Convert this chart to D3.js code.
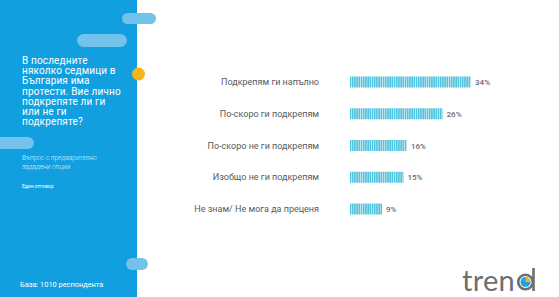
<!DOCTYPE html>
<html><head><meta charset="utf-8">
<script src="https://cdn.jsdelivr.net/npm/d3@7/dist/d3.min.js"></script>
<style>html,body{margin:0;padding:0;background:#fff;}svg{display:block;}</style>
</head><body>
<script>
const categories = ["Подкрепям ги напълно","По-скоро ги подкрепям","По-скоро не ги подкрепям","Изобщо не ги подкрепям","Не знам/ Не мога да преценя"];
const values = [34, 26, 16, 15, 9];
const valueLabels = ["34%","26%","16%","15%","9%"];
const questionLines = ["В последните","няколко седмици в","България има","протести. Вие лично","подкрепяте ли ги","или не ги","подкрепяте?"];
const subtitleLines = ["Въпрос с предварително","зададени опции"];
const answerNote = "Един отговор";
const baseNote = "База: 1010 респондента";

const W = 559, H = 297;
const svg = d3.select("body").append("svg").attr("width", W).attr("height", H);
const defs = svg.append("defs");
const pat = defs.append("pattern").attr("id","stripes").attr("patternUnits","userSpaceOnUse")
  .attr("width",2.2).attr("height",20);
pat.append("rect").attr("width",2.2).attr("height",20).attr("fill","#e6f6fa");
pat.append("rect").attr("width",1.6).attr("height",20).attr("fill","#52c4dd");

// left panel
svg.append("rect").attr("x",0).attr("y",0).attr("width",137).attr("height",H).attr("fill","#129fe0");
const pill = "#72c2ec";
[[122,13,34,11],[77,34,50,13],[-12,137,46,12],[126,258,22,12]].forEach(p=>{
  svg.append("rect").attr("x",p[0]).attr("y",p[1]).attr("width",p[2]).attr("height",p[3])
    .attr("rx",p[3]/2).attr("fill",pill);
});
svg.append("circle").attr("cx",138.5).attr("cy",74).attr("r",6.5).attr("fill","#f8b418");

const q = svg.append("text").attr("font-family","Roboto, sans-serif").attr("font-size",10)
  .attr("fill","#fff").attr("letter-spacing",0.15);
questionLines.forEach((t,i)=>q.append("tspan").attr("x",22).attr("y",64+i*10.2).text(t));
const s = svg.append("text").attr("font-family","Roboto, sans-serif").attr("font-size",6.5)
  .attr("fill","#d6efff").attr("font-weight",300);
subtitleLines.forEach((t,i)=>s.append("tspan").attr("x",22).attr("y",160+i*8.5).text(t));
svg.append("text").attr("x",22).attr("y",188).attr("font-family","Roboto, sans-serif")
  .attr("font-size",5).attr("fill","#fff").text(answerNote);
svg.append("text").attr("x",20).attr("y",287).attr("font-family","Roboto, sans-serif")
  .attr("font-size",7.4).attr("fill","#fff").text(baseNote);

// chart
const x = d3.scaleLinear().domain([0,100]).range([350, 350+356]);
const y = d3.scalePoint().domain(categories).range([82, 209]);
const barH = 11;
const g = svg.append("g");
g.selectAll("rect.bar").data(values).join("rect").attr("class","bar")
  .attr("x", x(0)).attr("y",(d,i)=>y(categories[i])-barH/2)
  .attr("width", d=>x(d)-x(0)).attr("height", barH).attr("fill","url(#stripes)");
g.selectAll("text.cat").data(categories).join("text").attr("class","cat")
  .attr("x",319).attr("y",d=>y(d)+3.2).attr("text-anchor","end")
  .attr("font-family","Roboto, sans-serif").attr("font-size",9).attr("fill","#5a5a5a").text(d=>d);
g.selectAll("text.val").data(values).join("text").attr("class","val")
  .attr("x",d=>x(d)+4).attr("y",(d,i)=>y(categories[i])+3)
  .attr("font-family","Roboto, sans-serif").attr("font-size",8).attr("font-weight",500)
  .attr("fill","#6a6a6a").text((d,i)=>valueLabels[i]);

// logo
const logo = svg.append("g");
logo.append("text").attr("x",462).attr("y",291).attr("font-family","Lato, sans-serif")
  .attr("font-size",29).attr("font-weight",400).attr("fill","#6d6e71").attr("letter-spacing",0.3).text("tren");
logo.append("circle").attr("cx",525.5).attr("cy",282).attr("r",7.3).attr("fill","none").attr("stroke","#6d6e71").attr("stroke-width",2.6);
logo.append("circle").attr("cx",525.5).attr("cy",282).attr("r",5).attr("fill","#1ba1dc");
logo.append("path").attr("d","M525.5,277 A5,5 0 0 1 530.5,282 L525.5,282 Z").attr("fill","#f8b418");
logo.append("line").attr("x1",533.5).attr("x2",533.5).attr("y1",268).attr("y2",291).attr("stroke","#6d6e71").attr("stroke-width",2.6);
</script>
</body></html>
